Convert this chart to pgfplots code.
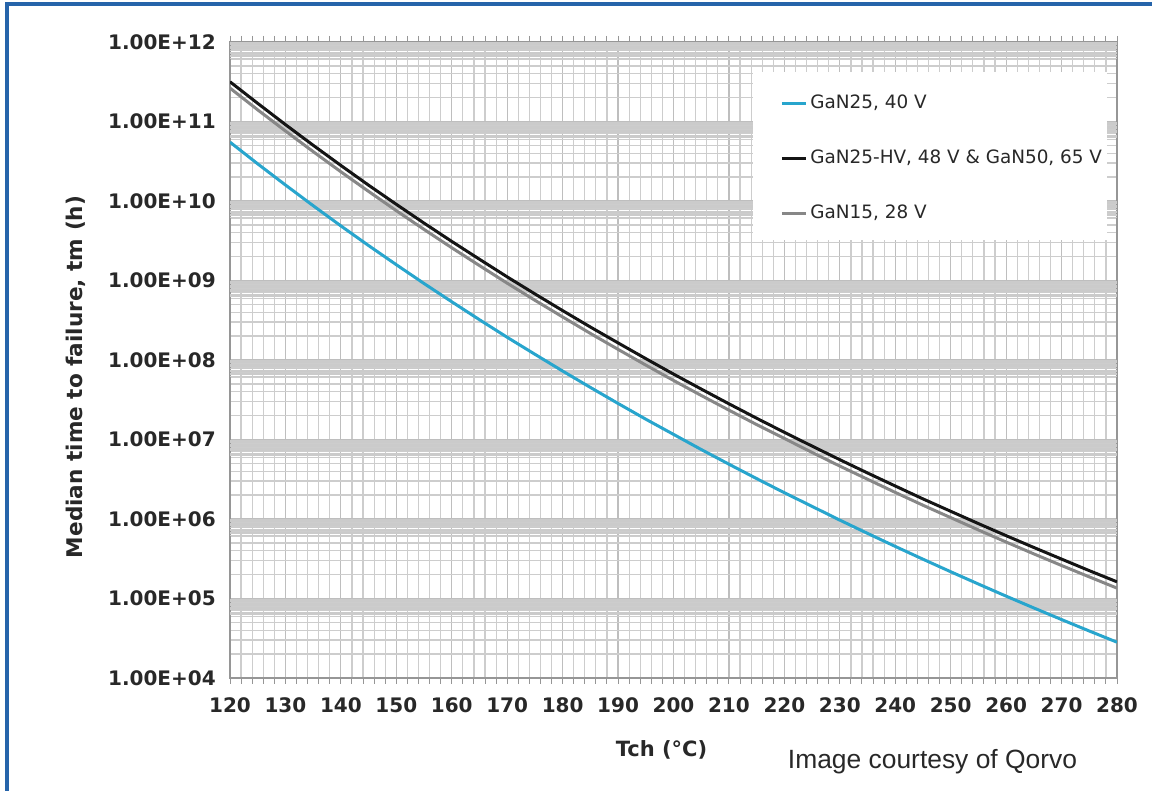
\documentclass[border=0pt]{standalone}
\usepackage{fontspec}
\setmainfont{DejaVu Sans}
\newfontfamily\arialfont{Liberation Sans}
\usepackage{pgfplots}
\usepackage{pgfplotstable}
\pgfplotsset{compat=1.18}

\definecolor{framebl}{RGB}{38,100,170}
\definecolor{gridmaj}{RGB}{190,190,190}
\definecolor{gridmin}{RGB}{205,205,205}
\definecolor{bandc}{RGB}{203,203,203}
\definecolor{axisc}{RGB}{150,150,150}
\definecolor{txt}{RGB}{40,40,40}
\definecolor{ganblue}{RGB}{40,165,205}
\definecolor{gangray}{RGB}{135,135,135}
\definecolor{ganblack}{RGB}{20,20,20}

% Median time to failure (h) versus channel temperature (deg C)
\pgfplotstableread{
T    gan25   ganhv   gan15
120  5.50e10 3.16e11 2.63e11
125  2.93e10 1.69e11 1.40e11
130  1.59e10 9.14e10 7.60e10
135  8.73e9  5.02e10 4.18e10
140  4.86e9  2.80e10 2.33e10
145  2.75e9  1.58e10 1.32e10
150  1.58e9  9.08e9  7.55e9
155  9.16e8  5.27e9  4.39e9
160  5.40e8  3.10e9  2.58e9
165  3.21e8  1.85e9  1.54e9
170  1.93e8  1.11e9  9.25e8
175  1.18e8  6.78e8  5.64e8
180  7.26e7  4.18e8  3.48e8
185  4.52e7  2.60e8  2.16e8
190  2.84e7  1.64e8  1.36e8
195  1.80e7  1.04e8  8.63e7
200  1.16e7  6.65e7  5.53e7
205  7.48e6  4.31e7  3.58e7
210  4.89e6  2.81e7  2.34e7
215  3.22e6  1.85e7  1.54e7
220  2.14e6  1.23e7  1.03e7
225  1.44e6  8.26e6  6.87e6
230  9.68e5  5.57e6  4.63e6
235  6.59e5  3.79e6  3.16e6
240  4.52e5  2.60e6  2.16e6
245  3.12e5  1.79e6  1.49e6
250  2.17e5  1.25e6  1.04e6
255  1.52e5  8.75e5  7.28e5
260  1.07e5  6.17e5  5.13e5
265  7.60e4  4.38e5  3.64e5
270  5.43e4  3.13e5  2.60e5
275  3.90e4  2.24e5  1.87e5
280  2.82e4  1.62e5  1.35e5
}\mttf

\begin{document}
\begin{tikzpicture}
\useasboundingbox (0,0) rectangle (576pt,395.5pt);
\begin{scope}
  \clip (0,0) rectangle (576pt,395.5pt);
  \draw[framebl, line width=1.6pt] (3.5pt,-10pt) rectangle (600pt,393.5pt);
\end{scope}

\begin{axis}[
  at={(115pt,56.5pt)}, anchor=south west,
  width=443.5pt, height=318pt, scale only axis,
  xmin=120, xmax=280, ymode=log, ymin=1e4, ymax=1e12,
  xtick={120,130,...,280},
  xticklabels={120,130,140,150,160,170,180,190,200,210,220,230,240,250,260,270,280},
  minor x tick num=4,
  ytick={1e4,1e5,1e6,1e7,1e8,1e9,1e10,1e11,1e12},
  yticklabels={1.00E+04,1.00E+05,1.00E+06,1.00E+07,1.00E+08,1.00E+09,1.00E+10,1.00E+11,1.00E+12},
  minor ytick={2e4,3e4,4e4,5e4,6e4,7e4,8e4,9e4,
               2e5,3e5,4e5,5e5,6e5,7e5,8e5,9e5,
               2e6,3e6,4e6,5e6,6e6,7e6,8e6,9e6,
               2e7,3e7,4e7,5e7,6e7,7e7,8e7,9e7,
               2e8,3e8,4e8,5e8,6e8,7e8,8e8,9e8,
               2e9,3e9,4e9,5e9,6e9,7e9,8e9,9e9,
               2e10,3e10,4e10,5e10,6e10,7e10,8e10,9e10,
               2e11,3e11,4e11,5e11,6e11,7e11,8e11,9e11},
  extra y ticks={6.25e4,6.5e4,6.75e4,7.25e4,7.5e4,7.75e4,8.25e4,8.5e4,8.75e4,9.25e4,9.5e4,9.75e4,
                 6.25e5,6.5e5,6.75e5,7.25e5,7.5e5,7.75e5,8.25e5,8.5e5,8.75e5,9.25e5,9.5e5,9.75e5,
                 6.25e6,6.5e6,6.75e6,7.25e6,7.5e6,7.75e6,8.25e6,8.5e6,8.75e6,9.25e6,9.5e6,9.75e6,
                 6.25e7,6.5e7,6.75e7,7.25e7,7.5e7,7.75e7,8.25e7,8.5e7,8.75e7,9.25e7,9.5e7,9.75e7,
                 6.25e8,6.5e8,6.75e8,7.25e8,7.5e8,7.75e8,8.25e8,8.5e8,8.75e8,9.25e8,9.5e8,9.75e8,
                 6.25e9,6.5e9,6.75e9,7.25e9,7.5e9,7.75e9,8.25e9,8.5e9,8.75e9,9.25e9,9.5e9,9.75e9,
                 6.25e10,6.5e10,6.75e10,7.25e10,7.5e10,7.75e10,8.25e10,8.5e10,8.75e10,9.25e10,9.5e10,9.75e10,
                 6.25e11,6.5e11,6.75e11,7.25e11,7.5e11,7.75e11,8.25e11,8.5e11,8.75e11,9.25e11,9.5e11,9.75e11},
  extra y tick labels={},
  extra y tick style={grid=major, major grid style={bandc, line width=0.4pt}, major tick length=0pt},
  grid=both,
  major grid style={gridmaj, line width=0.6pt},
  minor grid style={gridmin, line width=0.6pt},
  axis line style={axisc, line width=0.8pt},
  tick align=outside,
  xtick pos=both,
  major tick length=3pt, minor tick length=3pt,
  x tick style={axisc, line width=0.5pt},
  ytick style={draw=none},
  xticklabel style={font=\bfseries\fontsize{10}{12}\selectfont, text=txt, yshift=-3.5pt},
  yticklabel style={font=\bfseries\fontsize{10}{12}\selectfont, text=txt, xshift=-0.6pt},
  legend style={at={(0.6201,0.9173)}, anchor=north west, draw=none, fill=none,
    inner sep=0pt, row sep=18.5pt, column sep=1.5pt,
    font=\fontsize{9.2}{10}\selectfont, text=txt,
    nodes={inner sep=0pt, text height=7pt, text depth=2pt}},
  legend cell align=left,
  legend image code/.code={\draw[#1, line width=1.5pt] (0pt,0pt) -- (12pt,0pt);},
]
\addplot[ganblue, line width=1.5pt] table[x=T, y=gan25] {\mttf};
\addlegendentry{GaN25, 40 V}
\addplot[ganblack, line width=1.5pt] table[x=T, y=ganhv] {\mttf};
\addlegendentry{GaN25-HV, 48 V \& GaN50, 65 V}
\addplot[gangray, line width=1.5pt] table[x=T, y=gan15] {\mttf};
\addlegendentry{GaN15, 28 V}
% white panel behind the legend
\fill[white] (rel axis cs:0.5896,0.6887) rectangle (rel axis cs:0.9887,0.9528);
\end{axis}

\node[rotate=90, text=txt, font=\bfseries\fontsize{10.8}{12}\selectfont] at (38pt,207pt) {Median time to failure, tm (h)};
\node[text=txt, font=\bfseries\fontsize{10.5}{12}\selectfont] at (330.75pt,20.5pt) {Tch (°C)};
\node[text=txt, font=\arialfont\fontsize{13.2}{15}\selectfont] at (466.25pt,14.5pt) {Image courtesy of Qorvo};
\end{tikzpicture}
\end{document}
